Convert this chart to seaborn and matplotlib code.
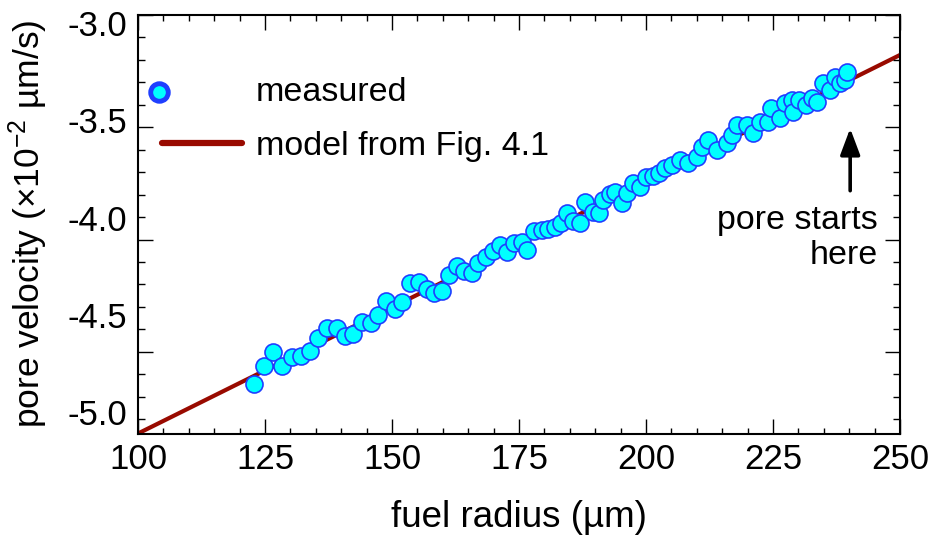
import matplotlib
matplotlib.use("Agg")
import matplotlib.pyplot as plt
import seaborn as sns
from matplotlib.ticker import MultipleLocator, NullLocator
from matplotlib.legend_handler import HandlerPathCollection
from matplotlib.collections import PathCollection

# ---------------- data ----------------
radius_um = [122.9, 124.9, 126.5, 128.4, 130.3, 132.1, 133.9, 135.5, 137.2, 139.1,
             140.7, 142.4, 144.0, 145.8, 147.3, 148.8, 150.5, 152.0, 153.5, 155.3,
             156.8, 158.3, 159.8, 161.2, 162.7, 164.2, 165.7, 167.0, 168.5, 169.9,
             171.3, 172.6, 174.0, 175.5, 176.5, 178.0, 179.5, 180.8, 182.1, 183.3,
             184.4, 185.7, 187.0, 188.0, 189.5, 190.8, 191.6, 192.9, 193.9, 195.2,
             196.2, 197.4, 198.8, 200.0, 201.3, 202.6, 203.7, 205.1, 206.7, 208.3,
             210.0, 211.0, 212.3, 213.9, 215.9, 216.9, 217.9, 219.8, 221.1, 222.4,
             224.1, 224.7, 226.4, 227.4, 228.7, 229.0, 230.2, 231.6, 232.6, 233.6,
             234.9, 236.2, 237.2, 238.2, 239.2, 239.5]
velocity = [-4.854, -4.760, -4.691, -4.761, -4.713, -4.710, -4.683, -4.619, -4.565, -4.568,
            -4.607, -4.597, -4.537, -4.542, -4.499, -4.427, -4.469, -4.433, -4.337, -4.331,
            -4.366, -4.388, -4.376, -4.294, -4.246, -4.272, -4.282, -4.234, -4.203, -4.171,
            -4.140, -4.174, -4.131, -4.123, -4.166, -4.068, -4.063, -4.059, -4.046, -4.029,
            -3.974, -4.017, -4.025, -3.918, -3.969, -3.974, -3.909, -3.878, -3.866, -3.926,
            -3.874, -3.820, -3.841, -3.789, -3.785, -3.770, -3.746, -3.729, -3.703, -3.720,
            -3.687, -3.635, -3.601, -3.652, -3.618, -3.575, -3.524, -3.524, -3.566, -3.507,
            -3.507, -3.438, -3.489, -3.412, -3.395, -3.455, -3.395, -3.421, -3.387, -3.404,
            -3.310, -3.344, -3.276, -3.310, -3.293, -3.250]
model_radius = [100.0, 250.0]
model_velocity = [-5.108, -3.164]

x_ticks = [100, 125, 150, 175, 200, 225, 250]
y_ticks = [-5.0, -4.5, -4.0, -3.5, -3.0]
y_tick_labels = ["-5.0", "-4.5", "-4.0", "-3.5", "-3.0"]

series_labels = ["measured", "model from Fig. 4.1"]
annotation_text = "pore starts\nhere"
x_label = "fuel radius (µm)"
y_label = r"pore velocity (×10$^{\mathregular{-2}}$ µm/s)"

# ---------------- style ----------------
sns.set_theme(style="white")
plt.rcParams["font.family"] = ["Liberation Sans", "DejaVu Sans"]
plt.rcParams["mathtext.fontset"] = "custom"
plt.rcParams["mathtext.rm"] = "Liberation Sans"
plt.rcParams["mathtext.it"] = "Liberation Sans:italic"
plt.rcParams["mathtext.bf"] = "Liberation Sans:bold"
for k in ["text.color", "axes.labelcolor", "xtick.color", "ytick.color", "axes.edgecolor"]:
    plt.rcParams[k] = "black"

FS = 24.5
TICK_FS = 25
LABEL_FS = 26.5
LINE_COLOR = "#990a00"
FACE = "#00ffff"
EDGE = "#1f3fff"

fig = plt.figure(figsize=(9.3, 5.38), dpi=100)
ax = fig.add_axes([0.1484, 0.1942, 0.8193, 0.7785])

sns.lineplot(x=model_radius, y=model_velocity, color=LINE_COLOR, linewidth=3,
             ax=ax, label=series_labels[1], zorder=2)
sns.scatterplot(x=radius_um, y=velocity, s=150, color=FACE, edgecolor=EDGE,
                linewidth=1.2, ax=ax, label=series_labels[0], zorder=3)

ax.set_xlim(100, 250)
ax.set_ylim(-5.108, -2.957)

ax.set_xticks(x_ticks)
ax.xaxis.set_minor_locator(MultipleLocator(5))
ax.set_yticks(y_ticks)
ax.set_yticklabels(y_tick_labels)
ax.yaxis.set_minor_locator(NullLocator())

ax.tick_params(axis="x", which="both", direction="in", top=True, bottom=True,
               width=1.0, labelsize=TICK_FS, pad=7)
ax.tick_params(axis="x", which="major", length=10.5)
ax.tick_params(axis="x", which="minor", length=4.5)
ax.tick_params(axis="y", which="both", length=0, labelsize=TICK_FS, pad=8)
for sp in ax.spines.values():
    sp.set_linewidth(1.5)
    sp.set_color("black")

ax.set_xlabel(x_label, fontsize=LABEL_FS, labelpad=17)
ax.set_ylabel(y_label, fontsize=25.5, labelpad=12)

# tick marks overlay for y axis (both sides)
tax = fig.add_axes(ax.get_position(), frameon=False)
tax.set_xlim(0, 1)
tax.set_ylim(18.63, 0)
tax.set_xticks([])
tax.yaxis.set_major_locator(MultipleLocator(5))
tax.yaxis.set_minor_locator(MultipleLocator(1))
tax.tick_params(axis="y", which="both", direction="in", left=True, right=True,
                labelleft=False, labelright=False, width=1.0)
tax.tick_params(axis="y", which="major", length=10.5)
tax.tick_params(axis="y", which="minor", length=5)
tax.patch.set_visible(False)

# legend
class LeftMarkerHandler(HandlerPathCollection):
    def get_xdata(self, legend, xdescent, ydescent, width, height, fontsize):
        x = [-xdescent - 2]
        return x, x

handles, labels = ax.get_legend_handles_labels()
hmap = dict(zip(labels, handles))
leg = ax.legend([hmap[series_labels[0]], hmap[series_labels[1]]], series_labels,
                loc="upper left", bbox_to_anchor=(0.0315, 0.852), frameon=False,
                fontsize=FS, borderaxespad=0, borderpad=0, handlelength=2.35,
                handletextpad=0.4, labelspacing=0.68, scatterpoints=1,
                handler_map={PathCollection: LeftMarkerHandler()})
lh = leg.legend_handles
lh[0].set_sizes([160])
lh[0].set_linewidth(3.5)
lh[0].set_edgecolor(EDGE)
lh[0].set_facecolor(FACE)
lh[1].set_linewidth(4.5)

# annotation
ax.annotate("", xy=(240.2, -3.541), xytext=(240.2, -3.861),
            arrowprops=dict(arrowstyle="-|>,head_length=0.8,head_width=0.3",
                            mutation_scale=20, color="black", lw=2.6,
                            shrinkA=0, shrinkB=0))
ax.text(245.7, -4.104, annotation_text, ha="right", va="center",
        multialignment="right", fontsize=FS, linespacing=1.2)

fig.savefig("out.png", dpi=100)
